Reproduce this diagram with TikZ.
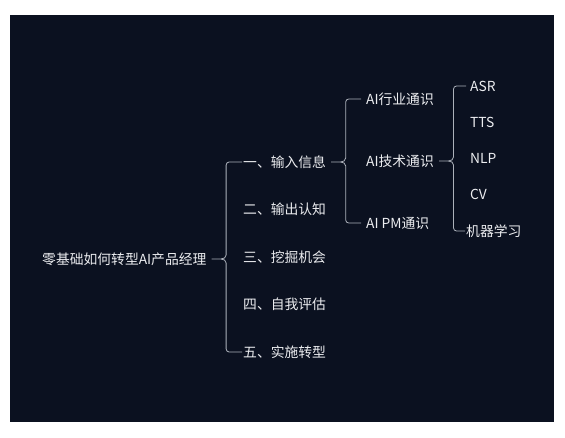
\documentclass[tikz,border=0pt]{standalone}
\usepackage{fontspec}
\setmainfont{Noto Sans CJK SC}
\usetikzlibrary{positioning}
\definecolor{bgnavy}{RGB}{11,17,32}
\definecolor{linkgray}{RGB}{172,177,186}
\definecolor{topicwhite}{RGB}{236,237,240}
\tikzset{
  topic/.style ={anchor=west, inner sep=1pt, text=topicwhite,
                 font=\fontsize{13.8}{16}\selectfont},
  link/.style  ={draw=linkgray, line width=0.8pt},
}
% parent, first child, last child, gap before first, gap before last
\newcommand{\mindbrace}[5]{%
  \coordinate (#1-b) at ([xshift=18.5pt]#1.east);
  \draw[link] ([xshift=4pt]#1.east) -- ([xshift=-5pt]#1-b)
    to[out=0,in=-90] ([yshift=4pt]#1-b) [rounded corners=3pt] |- ([xshift=-#4]#2.west);
  \draw[link] ([xshift=-5pt]#1-b)
    to[out=0,in=90] ([yshift=-4pt]#1-b) [rounded corners=3pt] |- ([xshift=-#5]#3.west);
}

\begin{document}
\begin{tikzpicture}[x=1pt, y=-1pt]
  \useasboundingbox (0,0) rectangle (565,438);
  \fill[bgnavy] (10,15) rectangle (554,422);

  % ---- root ----------------------------------------------------------
  \node[topic] (root) at (41,259) {零基础如何转型AI产品经理};

  % ---- level 1 -------------------------------------------------------
  \node[topic] (in) at (242,162) {一、输入信息};
  \node[topic, below=47.5pt of in.west, anchor=west]   (out)  {二、输出认知};
  \node[topic, below=47.5pt of out.west, anchor=west]  (mine) {三、挖掘机会};
  \node[topic, below=47.5pt of mine.west, anchor=west] (self) {四、自我评估};
  \node[topic, below=47.5pt of self.west, anchor=west] (impl) {五、实施转型};

  % ---- level 2 -------------------------------------------------------
  \node[topic] (ind) at (365,99) {AI行业通识};
  \node[topic, below=62pt of ind.west, anchor=west]  (tech) {AI技术通识};
  \node[topic, below=62pt of tech.west, anchor=west] (pm)   {AI PM通识};

  % ---- level 3 -------------------------------------------------------
  \node[topic] (asr) at (469,86) {ASR};
  \node[topic, below=36.3pt of asr.west, anchor=west] (tts) {TTS};
  \node[topic, below=36.3pt of tts.west, anchor=west] (nlp) {NLP};
  \node[topic, below=36.3pt of nlp.west, anchor=west] (cv)  {CV};
  \node[topic] (ml) at (465,231) {机器学习};

  % ---- brackets ------------------------------------------------------
  \mindbrace{root}{in}{impl}{0pt}{0pt}
  \mindbrace{in}{ind}{pm}{4pt}{4pt}
  \mindbrace{tech}{asr}{ml}{3pt}{0pt}
\end{tikzpicture}
\end{document}
